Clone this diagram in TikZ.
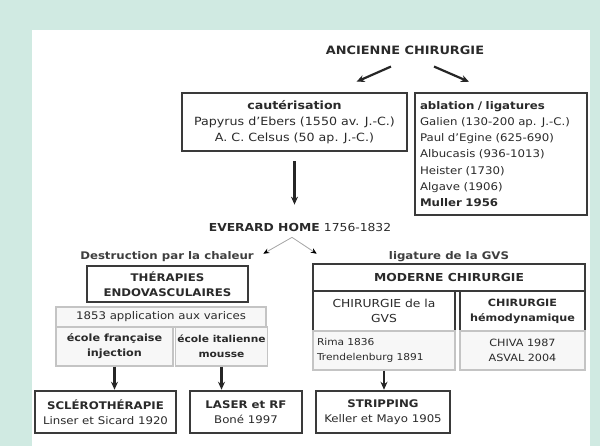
\documentclass[tikz,border=0pt]{standalone}
\usepackage{fontspec}
\setmainfont{DejaVu Sans}[FakeStretch=1.12]
\usetikzlibrary{positioning, arrows.meta}
\definecolor{mint}{HTML}{D0EAE2}
\definecolor{boxline}{HTML}{3A3A3A}
\definecolor{cellline}{HTML}{C4C4C4}
\definecolor{cellfill}{HTML}{F7F7F7}
\definecolor{ink}{HTML}{2A2A2A}
\tikzset{
	bigbox/.style={
		rectangle,
		draw=boxline,
		line width=2.5pt,
		fill=white,
		align=center,
		inner sep=2pt,
		text=ink,
		font=\fontsize{11}{15.5}\selectfont,
	},
	cell/.style={
		rectangle,
		draw=cellline,
		line width=1.2pt,
		fill=cellfill,
		align=center,
		inner sep=2pt,
		text=ink,
		font=\fontsize{10}{15}\selectfont,
	},
	heading/.style={
		font=\fontsize{11.5}{14}\selectfont\bfseries,
		text=ink,
		inner sep=1pt,
	},
	note/.style={
		font=\fontsize{10.5}{12}\selectfont\bfseries,
		text=ink!90,
		inner sep=1pt,
	},
	thick arrow/.style={
		-{Stealth[length=8pt, width=7pt]},
		line width=2.2pt,
		draw=black!85,
	},
	thin arrow/.style={
		-{Stealth[length=6pt, width=5pt, black]},
		line width=0.8pt,
		draw=black!35,
	},
}
\begin{document}
\begin{tikzpicture}[x=1pt, y=-1pt]
		% Background
		\fill [mint] (0,0) rectangle (600,446);
		\fill [white] (32,30) rectangle (590,446);
		\useasboundingbox (0,0) rectangle (600,446);

		% Old surgery
		\node [heading] (anc) at (405,50) {ANCIENNE CHIRURGIE};
		\node [bigbox, font=\fontsize{11.3}{16}\selectfont, minimum width=225, minimum height=58] (caut) at (294.5,122) {\textbf{cautérisation}\\Papyrus d'Ebers (1550 av. J.-C.)\\A. C. Celsus (50 ap. J.-C.)};
		\node [bigbox, minimum width=172, minimum height=122, text width=162, align=left, font=\fontsize{10.5}{16.3}\selectfont] (abl) at (501,154) {\textbf{ablation / ligatures}\\Galien (130-200 ap. J.-C.)\\Paul d'Egine (625-690)\\Albucasis (936-1013)\\Heister (1730)\\Algave (1906)\\\textbf{Muller 1956}};

		\draw [thick arrow] ([xshift=-14, yshift=-11]anc.south) -- ([xshift=62, yshift=10]caut.north);
		\draw [thick arrow] ([xshift=29, yshift=-11]anc.south) -- ([xshift=-32, yshift=10]abl.north);

		% Everard Home
		\node [heading, font=\fontsize{11}{14}\selectfont\bfseries] (home) at (300,227) {EVERARD HOME \textmd{1756-1832}};
		\draw [thick arrow, shorten <=9pt, shorten >=17pt] (caut.south) -- (caut.south |- home.north);

		% Endovascular side
		\node [note] (heat) at (167,257) {Destruction par la chaleur};
		\node [bigbox, font=\fontsize{10.5}{15}\selectfont\bfseries, minimum width=161, minimum height=36] (ther) at (167.5,284) {THÉRAPIES\\ENDOVASCULAIRES};
		\node [cell, font=\fontsize{10.5}{15}\selectfont, minimum width=210, minimum height=20] (appl) at (161,317) {1853 application aux varices};
		\node [cell, font=\fontsize{10}{15}\selectfont\bfseries, minimum width=117, minimum height=39] (ecfr) at (114.5,346.5) {école française\\injection};
		\node [cell, font=\fontsize{9.5}{15}\selectfont\bfseries, minimum width=89, minimum height=39] (ecit) at (221.5,346.5) {école italienne\\mousse};

		% Surgical side
		\node [note] (lig) at (449,257) {ligature de la GVS};
		\node [bigbox, font=\fontsize{11}{14}\selectfont\bfseries, minimum width=272, minimum height=27] (mod) at (449,277.5) {MODERNE CHIRURGIE};
		\node [bigbox, font=\fontsize{11}{15.5}\selectfont, minimum width=142, minimum height=40] (gvs) at (384,311) {CHIRURGIE de la\\GVS};
		\node [bigbox, font=\fontsize{10}{15}\selectfont\bfseries, minimum width=125, minimum height=40] (hemo) at (522.5,311) {CHIRURGIE\\hémodynamique};
		\node [cell, font=\fontsize{9.5}{15}\selectfont, minimum width=142, minimum height=39, text width=134, align=left] (rima) at (384,350.5) {Rima 1836\\Trendelenburg 1891};
		\node [cell, minimum width=125, minimum height=39] (chiva) at (522.5,350.5) {CHIVA 1987\\ASVAL 2004};

		% Split below Everard Home
		\coordinate (split) at ([xshift=-8, yshift=-5]home.south);
		\coordinate (tipL) at ([xshift=14, yshift=11]ther.north east);
		\coordinate (tipR) at ([xshift=5, yshift=9]mod.north west);
		\draw [thin arrow] (split) -- (tipL);
		\draw [thin arrow] (split) -- (tipR);

		% Bottom boxes
		\node [bigbox, font=\fontsize{10.5}{15.5}\selectfont, minimum width=141, minimum height=42] (scler) at (105.5,412) {\textbf{SCLÉROTHÉRAPIE}\\Linser et Sicard 1920};
		\node [bigbox, font=\fontsize{10.5}{15.5}\selectfont, minimum width=112, minimum height=42] (laser) at (246,412) {\textbf{LASER et RF}\\Boné 1997};
		\node [bigbox, font=\fontsize{10.5}{15.5}\selectfont, minimum width=134, minimum height=42] (strip) at (383,412) {\textbf{STRIPPING}\\Keller et Mayo 1905};

		\draw [thick arrow] (ecfr.south) -- (ecfr.south |- scler.north);
		\draw [thick arrow] (ecit.south) -- (ecit.south |- laser.north);
		\draw [thick arrow] (rima.south) -- (rima.south |- strip.north);

	\end{tikzpicture}
\end{document}
